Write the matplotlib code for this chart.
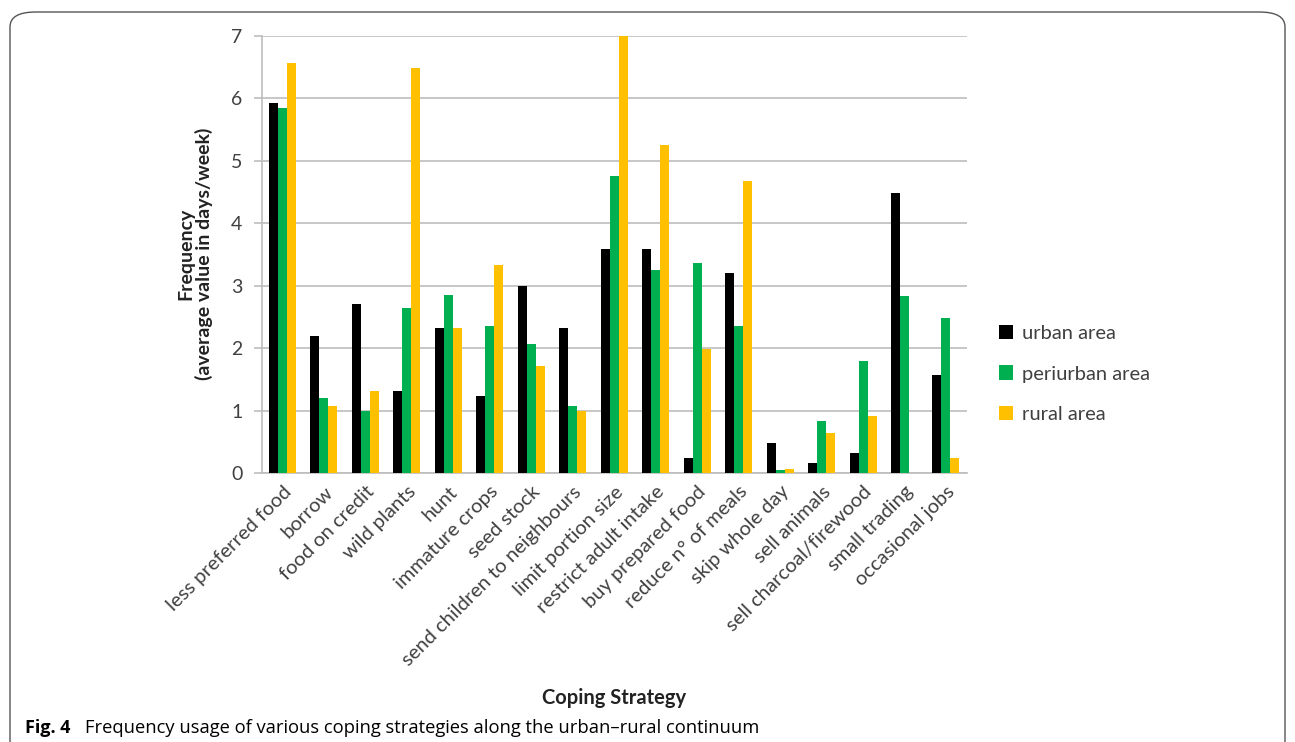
import matplotlib
matplotlib.use("Agg")
import matplotlib.pyplot as plt
import numpy as np
from matplotlib.patches import FancyBboxPatch

plt.rcParams['font.family'] = ['Lato', 'DejaVu Sans']

strategies = ["less preferred food", "borrow", "food on credit", "wild plants", "hunt",
              "immature crops", "seed stock", "send children to neighbours",
              "limit portion size", "restrict adult intake", "buy prepared food",
              "reduce n° of meals", "skip whole day", "sell animals",
              "sell charcoal/firewood", "small trading", "occasional jobs"]
urban = [5.92, 2.20, 2.71, 1.32, 2.33, 1.24, 3.00, 2.33, 3.58, 3.59, 0.24, 3.20, 0.49, 0.16, 0.33, 4.49, 1.58]
periurban = [5.85, 1.21, 1.00, 2.64, 2.85, 2.36, 2.07, 1.07, 4.76, 3.25, 3.36, 2.36, 0.06, 0.83, 1.79, 2.84, 2.49]
rural = [6.57, 1.08, 1.32, 6.49, 2.33, 3.33, 1.71, 1.00, 7.00, 5.25, 1.99, 4.67, 0.07, 0.65, 0.91, 0.0, 0.24]
series_names = ["urban area", "periurban area", "rural area"]
series_colors = ["#000000", "#00B050", "#FFC000"]

W, H = 1295, 742
fig = plt.figure(figsize=(W / 100, H / 100), dpi=100)

# rounded frame around the figure panel
frame = FancyBboxPatch((10 / W, -0.05), 1275 / W, (H - 12) / H + 0.05,
                       boxstyle="round,pad=0,rounding_size=0.02",
                       transform=fig.transFigure, fill=False,
                       edgecolor="#555555", linewidth=1.0)
fig.patches.append(frame)

ax = fig.add_axes([261.7 / W, 1 - 473.3 / H, 705 / W, 437.6 / H])

x = np.arange(len(strategies))
bw = 0.217
for i, (vals, name, col) in enumerate(zip([urban, periurban, rural], series_names, series_colors)):
    ax.bar(x + (i - 1) * bw, vals, width=bw, color=col, label=name, zorder=3)

ax.set_xlim(-0.5, len(strategies) - 0.5)
ax.set_ylim(0, 7)
ax.set_yticks(range(0, 8))
ax.yaxis.grid(True, color="#BDBDBD", linewidth=1.2, zorder=0)
for s in ["top", "right"]:
    ax.spines[s].set_visible(False)
for s in ["left", "bottom"]:
    ax.spines[s].set_color("#BDBDBD")
    ax.spines[s].set_linewidth(1.2)
ax.tick_params(axis="y", length=6, color="#BDBDBD", width=1.2, labelsize=14,
               labelcolor="#404040", pad=8)
ax.tick_params(axis="x", length=0, pad=7)
ax.set_xticks(x)
ax.set_xticklabels(strategies, rotation=45, ha="right", va="top",
                   rotation_mode="anchor", fontsize=14.5, color="#404040")

fig.text(195 / W, 1 - 254 / H, "Frequency\n(average value in days/week)",
         rotation=90, ha="center", va="center", fontsize=14, fontweight="bold",
         color="#222222", linespacing=1.05)
fig.text(614 / W, 1 - 698 / H, "Coping Strategy", ha="center", va="center",
         fontsize=14.5, fontweight="bold", color="#222222")

fig.legend(loc="center left", bbox_to_anchor=(981 / W, 1 - 374 / H), frameon=False,
           handlelength=0.7, handleheight=0.7, handletextpad=0.45,
           labelspacing=1.15, fontsize=14.5, labelcolor="#404040")

fig.text(25 / W, 1 - 728 / H, "Fig. 4", ha="left", va="center", fontsize=13,
         fontweight="bold", family=["Open Sans", "DejaVu Sans"])
fig.text(85 / W, 1 - 728 / H,
         "Frequency usage of various coping strategies along the urban\u2013rural continuum",
         ha="left", va="center", fontsize=13.2, family=["Open Sans", "DejaVu Sans"])

fig.savefig("out.png", dpi=100)
